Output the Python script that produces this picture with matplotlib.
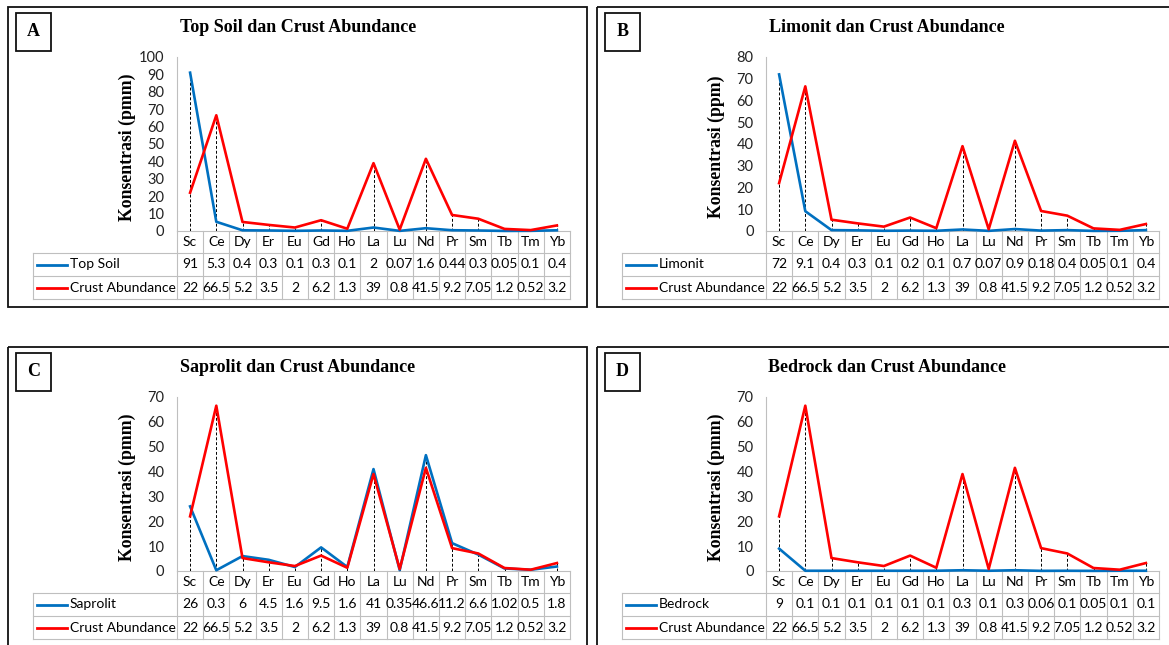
import matplotlib.pyplot as plt
from matplotlib.patches import Rectangle
from matplotlib.transforms import blended_transform_factory

# ____________________________________________________________________________________________________
# Data

elements = ["Sc", "Ce", "Dy", "Er", "Eu", "Gd", "Ho", "La", "Lu", "Nd", "Pr", "Sm", "Tb", "Tm", "Yb"]
crust_abundance = [22, 66.5, 5.2, 3.5, 2, 6.2, 1.3, 39, 0.8, 41.5, 9.2, 7.05, 1.2, 0.52, 3.2]
top_soil = [91, 5.3, 0.4, 0.3, 0.1, 0.3, 0.1, 2, 0.07, 1.6, 0.44, 0.3, 0.05, 0.1, 0.4]
limonit = [72, 9.1, 0.4, 0.3, 0.1, 0.2, 0.1, 0.7, 0.07, 0.9, 0.18, 0.4, 0.05, 0.1, 0.4]
saprolit = [26, 0.3, 6, 4.5, 1.6, 9.5, 1.6, 41, 0.35, 46.6, 11.2, 6.6, 1.02, 0.5, 1.8]
bedrock = [9, 0.1, 0.1, 0.1, 0.1, 0.1, 0.1, 0.3, 0.1, 0.3, 0.06, 0.1, 0.05, 0.1, 0.1]

panel_letters = ["A", "B", "C", "D"]
panel_titles = ["Top Soil dan Crust Abundance", "Limonit dan Crust Abundance",
                "Saprolit dan Crust Abundance", "Bedrock dan Crust Abundance"]
series_names = ["Top Soil", "Limonit", "Saprolit", "Bedrock"]
series_values = [top_soil, limonit, saprolit, bedrock]
y_max = [100, 80, 70, 70]
y_labels = ["Konsentrasi (pmm)", "Konsentrasi (ppm)", "Konsentrasi (pmm)", "Konsentrasi (pmm)"]

# ____________________________________________________________________________________________________
# Style / layout (pixels)

W, H = 1169, 645
BLUE = "#0070C0"
RED = "#FF0000"
GRID = "#BFBFBF"
SANS = "Lato"
SERIF = "Liberation Serif"
offsets = [(0, 0), (589, 0), (0, 340), (589, 340)]

fig = plt.figure(figsize=(W / 100, H / 100), dpi=100)
bg = fig.add_axes([0, 0, 1, 1])
bg.set_xlim(0, W)
bg.set_ylim(H, 0)
bg.axis("off")


def frac_box(x0, y0, x1, y1):
    return [x0 / W, 1 - y1 / H, (x1 - x0) / W, (y1 - y0) / H]


for k in range(4):
    dx, dy = offsets[k]
    values = series_values[k]

    # panel frame + letter box
    bg.add_patch(Rectangle((8 + dx, 7 + dy), 579 + (10 if dx else 0), 300 + (40 if dy else 0),
                           fill=False, ec="#111111", lw=1.3))
    bg.add_patch(Rectangle((16 + dx, 13 + dy), 35, 38, fill=False, ec="#111111", lw=1.3))
    bg.text(33.5 + dx, 32 + dy, panel_letters[k], ha="center", va="center",
            family=SERIF, weight="bold", fontsize=13)
    bg.text(298 + dx, 28 + dy, panel_titles[k], ha="center", va="center",
            family=SERIF, weight="bold", fontsize=13)
    bg.text(127 + dx, 147 + dy, y_labels[k], ha="center", va="center", rotation=90,
            family=SERIF, weight="bold", fontsize=12.8)

    # chart area
    left, right, top, bottom = 177 + dx, 570 + dx, 57 + dy, 231 + dy
    ax = fig.add_axes(frac_box(left, top, right, bottom))
    ax.patch.set_alpha(0)
    x = list(range(len(elements)))
    ax.set_xlim(-0.5, len(elements) - 0.5)
    ax.set_ylim(0, y_max[k])
    ax.vlines(x, 0, [max(a, b) for a, b in zip(values, crust_abundance)],
              colors="black", linestyles=(0, (3, 2)), lw=0.7)
    ax.plot(x, values, color=BLUE, lw=1.9, clip_on=False)
    ax.plot(x, crust_abundance, color=RED, lw=1.9, clip_on=False)
    for s in ["top", "right", "bottom"]:
        ax.spines[s].set_visible(False)
    ax.spines["left"].set_color(GRID)
    ax.spines["left"].set_linewidth(0.8)
    ax.set_xticks([])
    ax.set_yticks(range(0, y_max[k] + 1, 10))
    ax.tick_params(axis="y", length=0, pad=9, labelsize=10.5, labelcolor="#222222")
    for lab in ax.get_yticklabels():
        lab.set_family(SANS)

    # data table under the chart
    col_w = (right - left) / len(elements)
    rows_y = [231 + dy, 253 + dy, 276 + dy, 299 + dy]
    leg_left = 33 + dx
    bg.plot([left, right], [rows_y[0]] * 2, color=GRID, lw=0.8)
    for yy in rows_y[1:]:
        bg.plot([leg_left, right], [yy, yy], color=GRID, lw=0.8)
    bg.plot([leg_left, leg_left], [rows_y[1], rows_y[3]], color=GRID, lw=0.8)
    for i in range(len(elements) + 1):
        xx = left + i * col_w
        bg.plot([xx, xx], [rows_y[0], rows_y[3]], color=GRID, lw=0.8)

    tr = blended_transform_factory(ax.transData, bg.transData)
    centers = [(rows_y[i] + rows_y[i + 1]) / 2 for i in range(3)]
    for i, el in enumerate(elements):
        ax.text(i, centers[0], el, transform=tr, ha="center", va="center", family=SANS, fontsize=10)
        ax.text(i, centers[1], f"{values[i]:g}", transform=tr, ha="center", va="center",
                family=SANS, fontsize=10)
        ax.text(i, centers[2], f"{crust_abundance[i]:g}", transform=tr, ha="center", va="center",
                family=SANS, fontsize=10)

    for row, name, color in [(1, series_names[k], BLUE), (2, "Crust Abundance", RED)]:
        bg.plot([37 + dx, 67 + dx], [centers[row]] * 2, color=color, lw=2)
        bg.text(70 + dx, centers[row], name, ha="left", va="center", family=SANS, fontsize=10)

fig.savefig("out.png", dpi=100)
